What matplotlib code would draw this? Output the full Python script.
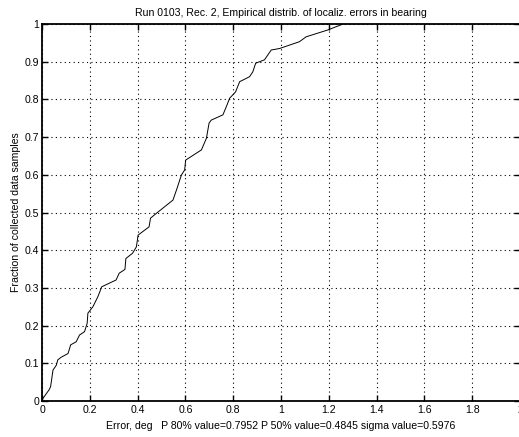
import matplotlib
matplotlib.use("Agg")
import matplotlib.pyplot as plt

# Empirical CDF of bearing localization errors
err_deg = [0, 0.004, 0.03, 0.036, 0.046, 0.06, 0.066, 0.08, 0.109, 0.12, 0.143,
           0.157, 0.178, 0.189, 0.192, 0.213, 0.234, 0.25, 0.31, 0.323, 0.347,
           0.351, 0.379, 0.395, 0.402, 0.448, 0.454, 0.479, 0.548, 0.565, 0.583,
           0.597, 0.601, 0.667, 0.688, 0.699, 0.708, 0.757, 0.774, 0.785, 0.81,
           0.827, 0.868, 0.882, 0.894, 0.931, 0.959, 0.994, 1.077, 1.105, 1.195,
           1.26]
fraction = [0, 0.007, 0.03, 0.038, 0.082, 0.095, 0.109, 0.116, 0.126, 0.149,
            0.157, 0.175, 0.184, 0.206, 0.233, 0.25, 0.277, 0.303, 0.321, 0.339,
            0.349, 0.378, 0.392, 0.409, 0.44, 0.462, 0.485, 0.498, 0.533, 0.564,
            0.599, 0.613, 0.639, 0.666, 0.697, 0.737, 0.745, 0.759, 0.785, 0.803,
            0.82, 0.847, 0.86, 0.873, 0.896, 0.905, 0.931, 0.935, 0.953, 0.966,
            0.984, 1.0]

x_ticks = [0, 0.2, 0.4, 0.6, 0.8, 1, 1.2, 1.4, 1.6, 1.8, 2]
x_tick_labels = ["0", "0.2", "0.4", "0.6", "0.8", "1", "1.2", "1.4", "1.6", "1.8", "2"]
y_ticks = [0, 0.1, 0.2, 0.3, 0.4, 0.5, 0.6, 0.7, 0.8, 0.9, 1]
y_tick_labels = ["0", "0.1", "0.2", "0.3", "0.4", "0.5", "0.6", "0.7", "0.8", "0.9", "1"]

title = "Run 0103, Rec. 2, Empirical distrib. of localiz. errors in bearing"
xlabel = "Error, deg   P 80% value=0.7952 P 50% value=0.4845 sigma value=0.5976"
ylabel = "Fraction of collected data samples"

plt.rcParams["font.family"] = ["Liberation Sans", "DejaVu Sans"]
fs = 7.6

W, H = 519, 437
fig = plt.figure(figsize=(W / 100, H / 100), dpi=100)
left, right, top, bottom = 42, 520, 24, 401
ax = fig.add_axes([left / W, 1 - bottom / H, (right - left) / W, (bottom - top) / H])

ax.plot(err_deg, fraction, color="black", linewidth=0.7)

ax.set_xlim(0, 2)
ax.set_ylim(0, 1)
ax.set_xticks(x_ticks)
ax.set_xticklabels(x_tick_labels, fontsize=fs)
ax.set_yticks(y_ticks)
ax.set_yticklabels(y_tick_labels, fontsize=fs)
ax.tick_params(direction="in", length=4, width=1.0, top=True, right=True)
ax.tick_params(axis="x", pad=3)
ax.tick_params(axis="y", pad=2)
ax.grid(True, color="black", linestyle=(0, (1, 3)), linewidth=0.8)
for s in ax.spines.values():
    s.set_linewidth(1.3)

ax.set_title(title, fontsize=fs, pad=6)
ax.set_xlabel(xlabel, fontsize=fs, labelpad=4)
ax.set_ylabel(ylabel, fontsize=fs, labelpad=3)

fig.savefig("out.png", dpi=100)
